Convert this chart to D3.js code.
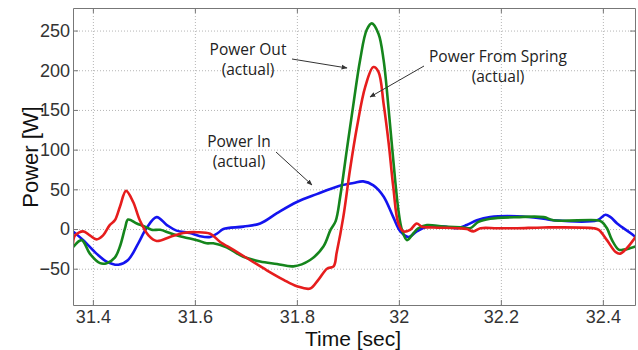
<!DOCTYPE html>
<html>
<head>
<meta charset="utf-8">
<script src="https://cdn.jsdelivr.net/npm/d3@7/dist/d3.min.js"></script>
<style>
body { margin:0; background:#fff; }
.tick text { font-family:"Liberation Sans", Arial, sans-serif; font-size:18px; fill:#333; }
.grid line { stroke:#b5b5b5; stroke-dasharray:1,2; }
.grid path { display:none; }
.box path, .box line { stroke:#777; }
.line { fill:none; stroke-width:2.6; stroke-linejoin:round; stroke-linecap:round; }
.note { font-family:"Open Sans", sans-serif; font-size:15.5px; fill:#222; text-anchor:middle; }
</style>
</head>
<body>
<svg id="myGraph" width="638" height="350"></svg>
<script>
window.addEventListener("load", function(){
var left = 73, right = 635, top = 8, bottom = 305;

// Power In (actual) - blue
var powerInT = [31.361,31.381,31.407,31.427,31.450,31.469,31.489,31.505,31.525,31.545,31.564,31.590,31.610,31.630,31.645,31.656,31.695,31.728,31.761,31.800,31.839,31.881,31.911,31.930,31.950,31.970,31.989,32.003,32.019,32.035,32.055,32.088,32.114,32.133,32.153,32.179,32.232,32.284,32.303,32.389,32.405,32.415,32.428,32.454,32.464];
var powerInV = [-3,-14,-31,-41,-45,-39,-18,1,15,5,-2,-5,-9,-10,-5,0,3,7,20,34,44,54,58,60,55,41,15,-3,-10,-3,3,3,1,5,11,15,16,13,11,11,18,15,7,-5,-10];

// Power Out (actual) - green
var powerOutT = [31.361,31.378,31.394,31.414,31.427,31.443,31.453,31.463,31.469,31.486,31.502,31.515,31.532,31.551,31.577,31.604,31.623,31.636,31.662,31.695,31.728,31.761,31.793,31.826,31.852,31.866,31.876,31.885,31.898,31.911,31.924,31.937,31.947,31.960,31.970,31.980,31.989,31.999,32.006,32.016,32.029,32.038,32.055,32.088,32.127,32.140,32.156,32.179,32.232,32.284,32.303,32.389,32.398,32.408,32.418,32.431,32.441,32.454,32.464];
var powerOutV = [-23,-14,-31,-43,-43,-36,-22,1,12,7,3,-1,-1,-5,-10,-14,-18,-18,-23,-35,-41,-44,-47,-39,-22,-1,10,41,100,158,213,251,259,246,213,150,87,24,-1,-14,-5,1,5,3,2,1,9,13,15,15,11,11,9,1,-14,-26,-26,-24,-22];

// Power From Spring (actual) - red
var springT = [31.361,31.365,31.381,31.394,31.407,31.420,31.433,31.443,31.453,31.465,31.479,31.492,31.509,31.525,31.551,31.577,31.604,31.630,31.649,31.675,31.708,31.741,31.774,31.800,31.826,31.842,31.859,31.872,31.878,31.891,31.904,31.918,31.934,31.950,31.960,31.970,31.980,31.989,31.999,32.009,32.022,32.035,32.045,32.068,32.114,32.133,32.146,32.160,32.192,32.232,32.284,32.382,32.392,32.408,32.425,32.434,32.447,32.464];
var springV = [-18,-8,-3,-8,-13,-8,5,11,28,48,34,11,-8,-15,-10,-5,-4,-6,-16,-26,-39,-52,-64,-72,-75,-64,-50,-47,-30,15,74,129,179,204,198,158,108,53,7,-3,-1,7,3,2,1,0,-3,1,1,1,2,1,-1,-14,-29,-31,-24,-10];

var xTicks = [31.4,31.6,31.8,32,32.2,32.4];
var yTicks = [-50,0,50,100,150,200,250];

var svg = d3.select("#myGraph");
var xScale = d3.scaleLinear().domain([31.361,32.463]).range([left,right]);
var yScale = d3.scaleLinear().domain([-95.7,278.4]).range([bottom,top]);

// grid
svg.append("g").attr("class","grid")
  .attr("transform","translate(0,"+bottom+")")
  .call(d3.axisBottom(xScale).tickValues(xTicks).tickSize(-(bottom-top)).tickFormat(""));
svg.append("g").attr("class","grid")
  .attr("transform","translate("+left+",0)")
  .call(d3.axisLeft(yScale).tickValues(yTicks).tickSize(-(right-left)).tickFormat(""));

// curves
var line = d3.line()
  .x(function(d){ return xScale(d[0]); })
  .y(function(d){ return yScale(d[1]); })
  .curve(d3.curveCatmullRom.alpha(0.5));
svg.append("clipPath").attr("id","clip").append("rect")
  .attr("x",left).attr("y",top).attr("width",right-left).attr("height",bottom-top);
function drawGraph(ts, vs, color){
  svg.append("path").attr("class","line").attr("clip-path","url(#clip)")
    .attr("stroke",color)
    .attr("d", line(d3.zip(ts, vs)));
}
drawGraph(powerInT, powerInV, "#1414ef");
drawGraph(powerOutT, powerOutV, "#15851c");
drawGraph(springT, springV, "#e61d1d");

// box and ticks (inside, MATLAB style)
var xAxisG = svg.append("g").attr("class","box").attr("transform","translate(0,"+bottom+")")
  .call(d3.axisBottom(xScale).tickValues(xTicks).tickSizeInner(-5).tickSizeOuter(0)
    .tickFormat(function(d){ return d3.format("")(d); }));
xAxisG.selectAll("text").attr("y", 18).attr("dy", "0");
svg.append("g").attr("class","box").attr("transform","translate(0,"+top+")")
  .call(d3.axisTop(xScale).tickValues(xTicks).tickSizeInner(-5).tickSizeOuter(0).tickFormat(""));
svg.append("g").attr("class","box").attr("transform","translate("+left+",0)")
  .call(d3.axisLeft(yScale).tickValues(yTicks).tickSizeInner(-5).tickSizeOuter(0).tickPadding(3));
svg.append("g").attr("class","box").attr("transform","translate("+right+",0)")
  .call(d3.axisRight(yScale).tickValues(yTicks).tickSizeInner(-5).tickSizeOuter(0).tickFormat(""));

// axis titles
svg.append("text").attr("x", (left+right)/2 - 1).attr("y", 346)
  .attr("text-anchor","middle").style("font-family","'Liberation Sans', Arial, sans-serif")
  .style("font-size","21px").attr("fill","#111").text("Time [sec]");
svg.append("text").attr("transform","translate(38,157) rotate(-90)")
  .attr("text-anchor","middle").style("font-family","'Liberation Sans', Arial, sans-serif")
  .style("font-size","22px").attr("fill","#111").text("Power [W]");

// annotations
svg.append("defs").append("marker").attr("id","arr")
  .attr("viewBox","0 0 10 10").attr("refX",9).attr("refY",5)
  .attr("markerWidth",6).attr("markerHeight",6).attr("orient","auto")
  .append("path").attr("d","M0,1 L10,5 L0,9 z").attr("fill","#333");
function note(lines, cx, y0){
  lines.forEach(function(s,i){
    svg.append("text").attr("class","note").attr("x",cx).attr("y",y0+i*20).text(s);
  });
}
function arrow(x1,y1,x2,y2){
  svg.append("line").attr("x1",x1).attr("y1",y1).attr("x2",x2).attr("y2",y2)
    .attr("stroke","#333").attr("stroke-width",1).attr("marker-end","url(#arr)");
}
note(["Power Out","(actual)"], 248, 55);
arrow(292,59,347,68);
note(["Power From Spring","(actual)"], 498, 62);
arrow(424,66,370,97);
note(["Power In","(actual)"], 239, 147);
arrow(276,152,312,185);
});
</script>
</body>
</html>
